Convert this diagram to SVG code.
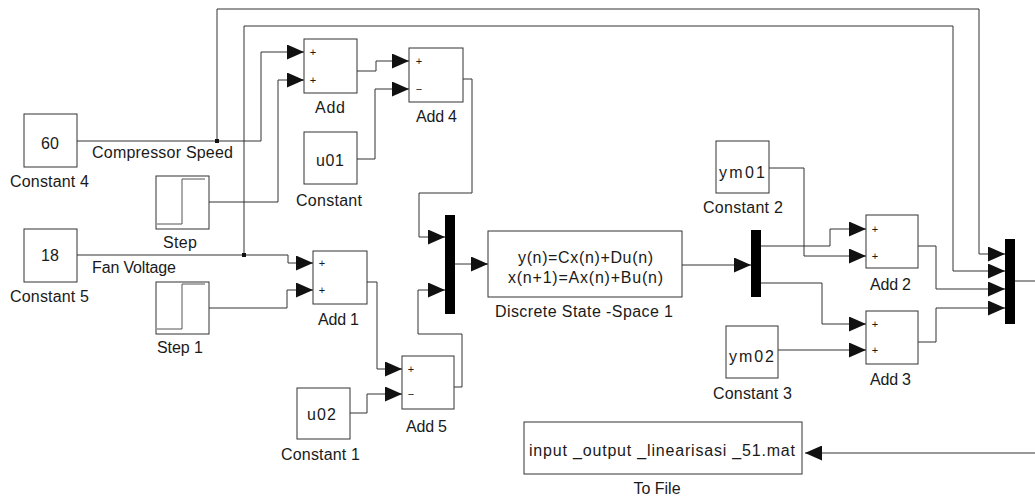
<svg xmlns="http://www.w3.org/2000/svg" width="1035" height="497" viewBox="0 0 1035 497">
<style>
.blk{fill:#fff;stroke:#333;stroke-width:1}
.bar{fill:#000;stroke:none}
.t{font-family:"Liberation Sans",Arial,sans-serif;font-size:16px;fill:#1a1a1a}
.s{font-family:"Liberation Sans",Arial,sans-serif;font-size:11px;fill:#1a1a1a;text-anchor:middle}
.w{fill:none;stroke:#333;stroke-width:1}
.a{marker-end:url(#ah)}
.ic{fill:none;stroke:#555;stroke-width:1}
</style>
<defs>
<marker id="ah" markerUnits="userSpaceOnUse" markerWidth="17" markerHeight="15" refX="17" refY="7.5" orient="auto">
<path d="M0,0 L17,7.5 L0,15 z" fill="#111"/>
</marker>
</defs>
<rect width="1035" height="497" fill="#fff"/>

<g id="connectors">
<path class="w a" d="M77,141 H261 V52 H304"/>
<path class="w a" d="M217,141 V9 H979 V254 H1005"/>
<path class="w a" d="M77,255 H288 V263 H313"/>
<path class="w a" d="M244,255 V26 H953 V271 H1005"/>
<path class="w a" d="M209,202 H278 V80 H304"/>
<path class="w a" d="M209,308 H287 V290 H313"/>
<path class="w a" d="M357,71 H376 V61 H409"/>
<path class="w a" d="M357,159 H375 V89 H409"/>
<path class="w a" d="M463,79 H472 V193 H419 V237 H445"/>
<path class="w a" d="M367,282 H377 V369 H402"/>
<path class="w a" d="M350,413 H367 V394 H402"/>
<path class="w a" d="M454,387 H462 V334 H418 V290 H445"/>
<path class="w a" d="M455,264 H488"/>
<path class="w a" d="M682,265 H751"/>
<path class="w a" d="M761,246 H830 V229 H866"/>
<path class="w a" d="M769,168 H804 V256 H866"/>
<path class="w a" d="M761,283 H822 V324 H866"/>
<path class="w a" d="M778,350 H866"/>
<path class="w a" d="M918,246 H936 V289 H1005"/>
<path class="w a" d="M918,342 H936 V308 H1005"/>
<path class="w" d="M1015,281 H1035"/>
<path class="w a" d="M1035,453 H805"/>
<rect x="215" y="139" width="4" height="4" fill="#111"/>
<rect x="242" y="253" width="4" height="4" fill="#111"/>
</g>

<g id="constant4">
<rect class="blk" x="24" y="114" width="53" height="53"/>
<text class="t" x="50" y="149" text-anchor="middle">60</text>
<text class="t" x="10" y="187" textLength="79" lengthAdjust="spacing">Constant 4</text>
</g>
<g id="label-compressor">
<text class="t" x="92" y="158" textLength="141" lengthAdjust="spacing">Compressor Speed</text>
</g>
<g id="step">
<rect class="blk" x="156" y="176" width="53" height="53"/>
<polyline class="ic" points="157,224 182,224 182,179 205,179"/>
<text class="t" x="163" y="248" textLength="34" lengthAdjust="spacing">Step</text>
</g>
<g id="constant5">
<rect class="blk" x="24" y="229" width="53" height="53"/>
<text class="t" x="50" y="261" text-anchor="middle">18</text>
<text class="t" x="10" y="302" textLength="79" lengthAdjust="spacing">Constant 5</text>
</g>
<g id="label-fan">
<text class="t" x="92" y="273" textLength="84" lengthAdjust="spacing">Fan Voltage</text>
</g>
<g id="step1">
<rect class="blk" x="156" y="282" width="53" height="52"/>
<polyline class="ic" points="157,329 182,329 182,284 205,284"/>
<text class="t" x="157" y="353" textLength="46" lengthAdjust="spacing">Step 1</text>
</g>
<g id="add">
<rect class="blk" x="304" y="39" width="53" height="54"/>
<text class="s" x="313" y="56">+</text>
<text class="s" x="313" y="84">+</text>
<text class="t" x="315" y="113" textLength="30" lengthAdjust="spacing">Add</text>
</g>
<g id="constant">
<rect class="blk" x="304" y="132" width="53" height="52"/>
<text class="t" x="316" y="166" textLength="28" lengthAdjust="spacing">u01</text>
<text class="t" x="296" y="206" textLength="66" lengthAdjust="spacing">Constant</text>
</g>
<g id="add4">
<rect class="blk" x="409" y="48" width="54" height="54"/>
<text class="s" x="419" y="65">+</text>
<text class="s" x="419" y="93">−</text>
<text class="t" x="416" y="122" textLength="41" lengthAdjust="spacing">Add 4</text>
</g>
<g id="add1">
<rect class="blk" x="313" y="251" width="54" height="53"/>
<text class="s" x="322" y="267">+</text>
<text class="s" x="322" y="294">+</text>
<text class="t" x="318" y="325" textLength="41" lengthAdjust="spacing">Add 1</text>
</g>
<g id="add5">
<rect class="blk" x="402" y="356" width="52" height="53"/>
<text class="s" x="411" y="373">+</text>
<text class="s" x="411" y="398">−</text>
<text class="t" x="406" y="432" textLength="41" lengthAdjust="spacing">Add 5</text>
</g>
<g id="constant1">
<rect class="blk" x="297" y="388" width="53" height="51"/>
<text class="t" x="307" y="420" textLength="29" lengthAdjust="spacing">u02</text>
<text class="t" x="281" y="460" textLength="79" lengthAdjust="spacing">Constant 1</text>
</g>
<g id="mux1">
<rect class="bar" x="445" y="215" width="10" height="99"/>
</g>
<g id="dss">
<rect class="blk" x="488" y="231" width="194" height="66"/>
<text class="t" x="518" y="263" textLength="135" lengthAdjust="spacing">y(n)=Cx(n)+Du(n)</text>
<text class="t" x="508" y="283" textLength="155" lengthAdjust="spacing">x(n+1)=Ax(n)+Bu(n)</text>
<text class="t" x="495" y="317" textLength="178" lengthAdjust="spacing">Discrete State -Space 1</text>
</g>
<g id="mux2">
<rect class="bar" x="751" y="230" width="10" height="67"/>
</g>
<g id="constant2">
<rect class="blk" x="716" y="141" width="53" height="52"/>
<text class="t" x="719" y="178" textLength="46" lengthAdjust="spacing">ym01</text>
<text class="t" x="703" y="213" textLength="80" lengthAdjust="spacing">Constant 2</text>
</g>
<g id="add2">
<rect class="blk" x="866" y="215" width="52" height="53"/>
<text class="s" x="875" y="233">+</text>
<text class="s" x="875" y="260">+</text>
<text class="t" x="870" y="290" textLength="41" lengthAdjust="spacing">Add 2</text>
</g>
<g id="constant3">
<rect class="blk" x="726" y="326" width="52" height="52"/>
<text class="t" x="729" y="362" textLength="45" lengthAdjust="spacing">ym02</text>
<text class="t" x="713" y="399" textLength="79" lengthAdjust="spacing">Constant 3</text>
</g>
<g id="add3">
<rect class="blk" x="866" y="311" width="52" height="53"/>
<text class="s" x="875" y="328">+</text>
<text class="s" x="875" y="354">+</text>
<text class="t" x="870" y="385" textLength="41" lengthAdjust="spacing">Add 3</text>
</g>
<g id="mux3">
<rect class="bar" x="1005" y="239" width="10" height="85"/>
</g>
<g id="tofile">
<rect class="blk" x="524" y="422" width="278" height="52"/>
<text class="t" x="529" y="456" textLength="266" lengthAdjust="spacing">input _output _linearisasi  _51.mat</text>
<text class="t" x="657" y="494" text-anchor="middle">To File</text>
</g>
</svg>
